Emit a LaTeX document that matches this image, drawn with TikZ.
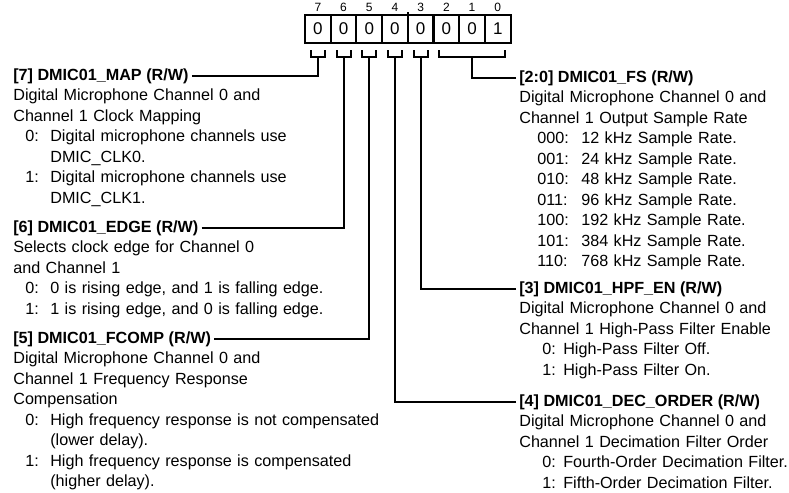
\documentclass[tikz,border=0pt]{standalone}
\usepackage{fontspec}
\setmainfont{Liberation Sans}
\usetikzlibrary{positioning}
\newlength{\px}
\setlength{\px}{0.6pt}
% option line: label at #1, text starting at #2
\newcommand{\regopt}[4]{\makebox[#2][l]{\hspace*{#1}#3}#4}
\newcommand{\lopt}[2]{\regopt{12\px}{37\px}{#1}{#2}}
\newcommand{\fsopt}[2]{\regopt{18\px}{62\px}{#1}{#2}}
\newcommand{\ropt}[2]{\regopt{23\px}{44\px}{#1}{#2}}
\newcommand{\regfont}{\fontsize{9.7pt}{12.3pt}\selectfont}
\tikzset{
  cell/.style={draw,line width=1.3pt,minimum width=15.42pt,minimum height=16.62pt,
    inner sep=0pt,outer sep=0pt,font=\fontsize{10.2pt}{12pt}\selectfont},
  bitnum/.style={inner sep=0pt,font=\fontsize{7.2pt}{9pt}\selectfont},
  conn/.style={line width=1.2pt},
  reghead/.style={anchor=base west,inner sep=0pt,font=\regfont\bfseries},
  regbody/.style={anchor=base west,inner sep=0pt,align=left,text width=#1,font=\regfont},
  regbody/.default=240pt
}

\begin{document}
\begin{tikzpicture}[x=0.6pt,y=-0.6pt]
  \useasboundingbox (0,0) rectangle (789,493);
  % register cells, bit 7 on the left
  \foreach \b/\v [count=\k from 0] in {7/0,6/0,5/0,4/0,3/0,2/0,1/0,0/1} {
    \node[cell] (c\b) at (317.85+25.7*\k,28.85) {\v};
    \node[bitnum,above=1.8pt of c\b] (n\b) {\b};
  }
  \draw[conn] (c4.north east) -- ++(0,-3.5);
  % brackets under the single bits
  \foreach \b in {7,...,3} {
    \coordinate (s\b) at ([yshift=-8.6pt]c\b.south);
    \draw[conn] ([xshift=-4.2pt,yshift=-4.4pt]c\b.south) |- (s\b)
      -| ([xshift=4.2pt,yshift=-4.4pt]c\b.south);
  }
  \coordinate (s20) at ([yshift=-8.6pt]c1.south);
  \draw[conn] ([xshift=-4.2pt,yshift=-4.4pt]c2.south) |- (s20)
    -| ([xshift=4.2pt,yshift=-4.4pt]c0.south);

  % left column
  \node[reghead] (map-h) at (13,80) {[7] DMIC01\_MAP (R/W)};
  \node[regbody] (map-b) at ([yshift=-12.3pt]map-h.base west) {Digital Microphone Channel 0 and\\
    Channel 1 Clock Mapping\\
    \lopt{0:}{Digital microphone channels use}\\
    \lopt{}{DMIC\_CLK0.}\\
    \lopt{1:}{Digital microphone channels use}\\
    \lopt{}{DMIC\_CLK1.}};
  \node[reghead] (edge-h) at (13,232) {[6] DMIC01\_EDGE (R/W)};
  \node[regbody] (edge-b) at ([yshift=-12.3pt]edge-h.base west) {Selects clock edge for Channel 0\\
    and Channel 1\\
    \lopt{0:}{0 is rising edge, and 1 is falling edge.}\\
    \lopt{1:}{1 is rising edge, and 0 is falling edge.}};
  \node[reghead] (fcomp-h) at (13,343) {[5] DMIC01\_FCOMP (R/W)};
  \node[regbody] (fcomp-b) at ([yshift=-12.3pt]fcomp-h.base west) {Digital Microphone Channel 0 and\\
    Channel 1 Frequency Response\\
    Compensation\\
    \lopt{0:}{High frequency response is not compensated}\\
    \lopt{}{(lower delay).}\\
    \lopt{1:}{High frequency response is compensated}\\
    \lopt{}{(higher delay).}};

  % right column
  \node[reghead] (fs-h) at (519,82) {[2:0] DMIC01\_FS (R/W)};
  \node[regbody=200pt] (fs-b) at ([yshift=-12.3pt]fs-h.base west) {Digital Microphone Channel 0 and\\
    Channel 1 Output Sample Rate\\
    \fsopt{000:}{12 kHz Sample Rate.}\\
    \fsopt{001:}{24 kHz Sample Rate.}\\
    \fsopt{010:}{48 kHz Sample Rate.}\\
    \fsopt{011:}{96 kHz Sample Rate.}\\
    \fsopt{100:}{192 kHz Sample Rate.}\\
    \fsopt{101:}{384 kHz Sample Rate.}\\
    \fsopt{110:}{768 kHz Sample Rate.}};
  \node[reghead] (hpf-h) at (519,293) {[3] DMIC01\_HPF\_EN (R/W)};
  \node[regbody=200pt] (hpf-b) at ([yshift=-12.3pt]hpf-h.base west) {Digital Microphone Channel 0 and\\
    Channel 1 High-Pass Filter Enable\\
    \ropt{0:}{High-Pass Filter Off.}\\
    \ropt{1:}{High-Pass Filter On.}};
  \node[reghead] (dec-h) at (519,406) {[4] DMIC01\_DEC\_ORDER (R/W)};
  \node[regbody=200pt] (dec-b) at ([yshift=-12.3pt]dec-h.base west) {Digital Microphone Channel 0 and\\
    Channel 1 Decimation Filter Order\\
    \ropt{0:}{Fourth-Order Decimation Filter.}\\
    \ropt{1:}{Fifth-Order Decimation Filter.}};

  % connectors from the bit brackets
  \draw[conn] ([xshift=1.8pt]map-h.east) -| (s7);
  \draw[conn] ([xshift=1.8pt]edge-h.east) -| (s6);
  \draw[conn] ([xshift=1.8pt]fcomp-h.east) -| (s5);
  \draw[conn] ([xshift=-1.8pt]dec-h.west) -| (s4);
  \draw[conn] ([xshift=-1.8pt]hpf-h.west) -| (s3);
  \draw[conn] ([xshift=-1.8pt]fs-h.west) -| (s20);
\end{tikzpicture}
\end{document}
